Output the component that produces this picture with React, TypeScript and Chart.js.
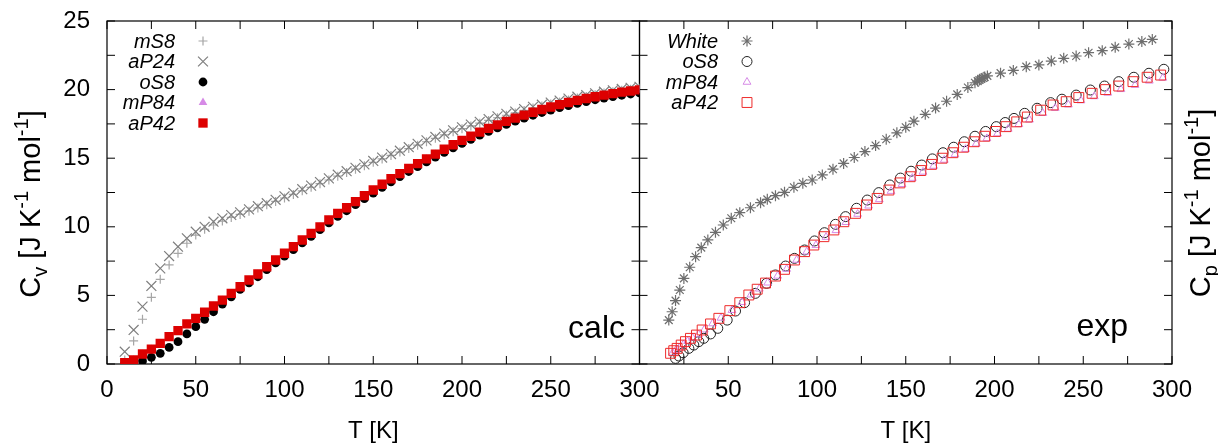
import React, { useEffect, useRef } from 'react';
import { Chart, registerables } from 'chart.js';
import { drawPoint } from 'chart.js/helpers';

Chart.register(...registerables);

const W = 1218;
const H = 445;
const FONT = '"Liberation Sans", Arial, Helvetica, sans-serif';

// ---------- calc panel ----------
const calcT = [10,15,20,25,30,35,40,45,50,55,60,65,70,75,80,85,90,95,100,105,110,115,120,125,130,135,140,145,150,155,160,165,170,175,180,185,190,195,200,205,210,215,220,225,230,235,240,245,250,255,260,265,270,275,280,285,290,295,300];
const calcMS8 = [0.30,1.68,3.26,4.86,6.17,7.22,8.07,8.80,9.40,9.82,
  10.13,10.42,10.68,10.90,11.14,11.37,11.60,11.85,12.10,12.36,
  12.62,12.88,13.14,13.41,13.69,13.95,14.20,14.45,14.70,14.95,
  15.20,15.45,15.70,15.95,16.20,16.45,16.70,16.93,17.15,17.35,
  17.55,17.75,17.95,18.13,18.30,18.48,18.65,18.80,18.95,19.10,
  19.25,19.38,19.50,19.63,19.75,19.85,19.95,20.03,20.10];
const calcAP24 = [0.90,2.48,4.18,5.69,6.97,7.87,8.55,9.16,9.64,10.00,
  10.37,10.62,10.86,11.05,11.27,11.50,11.72,11.97,12.22,12.48,
  12.74,13.00,13.26,13.53,13.80,14.05,14.30,14.55,14.80,15.05,
  15.30,15.55,15.80,16.05,16.30,16.55,16.80,17.03,17.25,17.45,
  17.65,17.85,18.05,18.23,18.40,18.58,18.75,18.90,19.05,19.20,
  19.35,19.48,19.60,19.73,19.85,19.95,20.05,20.13,20.20];
const calcOS8 = [0.04,0.10,0.22,0.49,0.78,1.21,1.63,2.19,2.72,3.26,
  3.81,4.37,4.90,5.44,5.92,6.36,6.88,7.37,7.86,8.34,
  8.83,9.31,9.79,10.28,10.76,11.17,11.61,12.05,12.46,12.88,
  13.28,13.66,14.03,14.38,14.73,15.08,15.43,15.76,16.08,16.38,
  16.68,16.95,17.21,17.46,17.70,17.92,18.13,18.33,18.51,18.68,
  18.84,18.99,19.13,19.26,19.38,19.49,19.59,19.68,19.76];
const calcMP84 = [0.08,0.27,0.70,1.06,1.47,1.96,2.40,2.89,3.30,3.74,
  4.20,4.63,5.12,5.60,6.09,6.53,7.06,7.55,8.04,8.52,
  9.01,9.49,9.97,10.47,10.95,11.36,11.80,12.24,12.65,13.07,
  13.47,13.85,14.22,14.57,14.92,15.27,15.62,15.95,16.27,16.57,
  16.87,17.14,17.40,17.65,17.89,18.11,18.32,18.52,18.70,18.87,
  19.03,19.18,19.32,19.45,19.57,19.68,19.78,19.87,19.95];
const calcAP42 = [0.10,0.30,0.73,1.09,1.50,1.99,2.43,2.92,3.33,3.77,
  4.23,4.66,5.15,5.63,6.12,6.56,7.09,7.58,8.07,8.55,
  9.04,9.52,10.00,10.50,10.98,11.39,11.83,12.27,12.68,13.10,
  13.50,13.88,14.25,14.60,14.95,15.30,15.65,15.98,16.30,16.60,
  16.90,17.17,17.43,17.68,17.92,18.14,18.35,18.55,18.73,18.90,
  19.06,19.21,19.35,19.48,19.60,19.71,19.81,19.90,19.98];

// ---------- exp panel ----------
const whiteT = [16.5,18.4,20.3,22.7,25.0,28.3,31.6,34.8,38.5,42.8,47.2,51.7,56.5,62.5,68.2,72.0,76.6,81.7,87.0,92.0,97.3,103,109,115,121,127,133,139,145,150,154.6,161,166.8,173,179,185,189,190.5,191.5,192.5,193.5,194.5,196,203.4,210.6,217.9,225,232,239,246,253,260.7,268,275.7,283,288.9];
const whiteCp = [3.2,3.81,4.62,5.39,6.24,7.05,7.82,8.48,9.04,9.6,
  10.13,10.62,11.03,11.39,11.76,12.0,12.27,12.51,12.88,13.17,
  13.41,13.78,14.2,14.62,15.05,15.48,15.92,16.38,16.85,17.25,
  17.7,18.2,18.65,19.15,19.65,20.15,20.5,20.62,20.7,20.78,
  20.85,20.92,21.0,21.2,21.4,21.67,21.8,22.08,22.28,22.45,
  22.69,22.84,23.08,23.32,23.5,23.66];
const expOS8T = [20.3,22.2,24.6,27.8,30.6,33.4,36.2,40.0,44.1,49.4,54.1,59.2,65.3,71.6,76.6,82.3,87.3,93.0,98.6,104.2,110.4,116.1,122.3,128.3,134.8,141.0,147.0,153,159,165,171,177,183,189,195,201,206,211,217,224,231.6,238,246,254,262,270,278.5,287,295.4];
const expOS8 = [0.41,0.58,0.82,1.14,1.38,1.63,1.87,2.19,2.6,3.2,
  3.86,4.47,5.15,5.88,6.49,7.14,7.7,8.31,8.97,9.57,
  10.18,10.74,11.35,11.95,12.49,13.05,13.55,14.05,14.5,14.95,
  15.4,15.8,16.2,16.6,16.95,17.3,17.6,17.9,18.27,18.64,
  19.05,19.3,19.6,19.97,20.26,20.58,20.9,21.19,21.48];
const expMP84T = [18.7,20.5,22.4,24.7,27.1,29.9,33.3,36.5,41.2,45.9,52.1,57.7,62.8,67.5,72.2,77.8,82.9,88.5,94.2,99.4,105.1,110.7,116.3,122.9,129.1,135.1,141.7,147.9,153.7,159.7,165.7,171.7,177.7,183.7,189.7,195.7,201.7,207.7,213.7,219.7,227.2,234.2,241.6,248.7,256.2,263.8,271.2,279.2,287.2,294.8];
const expMP84 = [0.82,1.0,1.18,1.42,1.66,1.9,2.15,2.5,2.95,3.36,
  3.92,4.5,5.05,5.48,5.92,6.42,6.92,7.58,8.18,8.66,
  9.25,9.74,10.33,10.93,11.53,12.0,12.6,13.1,13.55,14.0,
  14.43,14.87,15.27,15.66,16.05,16.44,16.79,17.13,17.47,17.8,
  18.28,18.65,18.9,19.2,19.5,19.76,20.02,20.33,20.64,20.85];
const expAP42T = [17.5,19.3,21.2,23.5,25.9,28.7,32.1,35.3,40.0,44.7,50.9,56.5,61.6,66.3,71.0,76.6,81.7,87.3,93.0,98.2,103.9,109.5,115.1,121.7,127.9,133.9,140.5,146.7,152.5,158.5,164.5,170.5,176.5,182.5,188.5,194.5,200.5,206.5,212.5,218.5,226,233,240.4,247.5,255,262.6,270,278,286,293.6];
const expAP42 = [0.78,0.97,1.14,1.38,1.63,1.87,2.11,2.48,2.92,3.33,
  3.89,4.47,5.03,5.45,5.9,6.41,6.9,7.58,8.19,8.67,
  9.28,9.77,10.37,10.98,11.59,12.07,12.68,13.2,13.65,14.1,
  14.55,15.0,15.4,15.8,16.2,16.6,16.95,17.3,17.65,18.0,
  18.5,18.88,19.12,19.42,19.73,20.0,20.26,20.58,20.9,21.06];

// ---------- axes ----------
const xTickMarks = [0,25,50,75,100,125,150,175,200,225,250,275,300];
const yTickMarks = [0,2.5,5,7.5,10,12.5,15,17.5,20,22.5,25];
const xLabelStep = 50;
const yLabelStep = 5;
const panelLabels = ['calc', 'exp'];
const xTitle = 'T [K]';
const yTitleLeft = [['C', 0], ['v', -1], [' [J K', 0], ['-1', 1], [' mol', 0], ['-1', 1], [']', 0]];
const yTitleRight = [['C', 0], ['p', -1], [' [J K', 0], ['-1', 1], [' mol', 0], ['-1', 1], [']', 0]];

const pts = (xs: number[], ys: number[]) => xs.map((x, i) => ({ x, y: ys[i] }));

function richWidth(ctx: CanvasRenderingContext2D, parts: any[], size: number) {
  let w = 0;
  for (const [t, s] of parts) {
    ctx.font = `${s === 0 ? size : Math.round(size * 0.68)}px ${FONT}`;
    w += ctx.measureText(t).width;
  }
  return w;
}
function drawRich(ctx: CanvasRenderingContext2D, parts: any[], size: number, x0: number, y0: number) {
  let x = x0;
  for (const [t, s] of parts) {
    ctx.font = `${s === 0 ? size : Math.round(size * 0.68)}px ${FONT}`;
    const dy = s === 0 ? 0 : s < 0 ? size * 0.25 : -size * 0.42;
    ctx.fillText(t, x, y0 + dy);
    x += ctx.measureText(t).width;
  }
}

const decor = {
  id: 'decor',
  beforeDatasetsDraw(chart: any) {
    const { ctx } = chart;
    const y = chart.scales.yL;
    const t = y.getPixelForValue(25);
    const b = y.getPixelForValue(0);
    ctx.save();
    ctx.strokeStyle = '#000';
    for (const id of ['xL', 'xR']) {
      const xs = chart.scales[id];
      const l = xs.getPixelForValue(0);
      const r = xs.getPixelForValue(300);
      ctx.lineWidth = 1.2;
      ctx.strokeRect(l, t, r - l, b - t);
      ctx.beginPath();
      ctx.lineWidth = 1;
      for (const v of xTickMarks) {
        const px = xs.getPixelForValue(v);
        ctx.moveTo(px, b); ctx.lineTo(px, b - 8);
        ctx.moveTo(px, t); ctx.lineTo(px, t + 8);
      }
      for (const v of yTickMarks) {
        const py = y.getPixelForValue(v);
        ctx.moveTo(l, py); ctx.lineTo(l + 8, py);
        ctx.moveTo(r, py); ctx.lineTo(r - 8, py);
      }
      ctx.stroke();
    }
    ctx.restore();
  },
  afterDraw(chart: any) {
    const { ctx } = chart;
    const xL = chart.scales.xL;
    const xR = chart.scales.xR;
    ctx.save();
    ctx.fillStyle = '#000';
    // legends
    const ds = chart.data.datasets;
    const legendDefs = [
      { idx: [0, 1, 2, 3, 4], textX: 175, symX: 203 },
      { idx: [5, 6, 7, 8], textX: 718, symX: 747 },
    ];
    for (const L of legendDefs) {
      L.idx.forEach((k, row) => {
        const d = ds[k];
        const yy = 41 + row * 20.5;
        ctx.font = `italic 20px ${FONT}`;
        ctx.fillStyle = '#000';
        ctx.textAlign = 'right';
        ctx.textBaseline = 'middle';
        ctx.fillText(d.label, L.textX, yy + 1);
        ctx.fillStyle = d.pointBackgroundColor;
        ctx.strokeStyle = d.pointBorderColor;
        ctx.lineWidth = d.pointBorderWidth;
        drawPoint(ctx, { pointStyle: d.pointStyle, radius: d.pointRadius, rotation: 0, borderWidth: d.pointBorderWidth } as any, L.symX, yy);
      });
    }
    // panel labels
    ctx.fillStyle = '#000';
    ctx.font = `32px ${FONT}`;
    ctx.textAlign = 'right';
    ctx.textBaseline = 'alphabetic';
    ctx.fillText(panelLabels[0], 625, 338);
    ctx.fillText(panelLabels[1], 1128, 336);
    // x titles
    ctx.font = `24px ${FONT}`;
    ctx.textAlign = 'center';
    const cL = (xL.getPixelForValue(0) + xL.getPixelForValue(300)) / 2;
    const cR = (xR.getPixelForValue(0) + xR.getPixelForValue(300)) / 2;
    ctx.fillText(xTitle, cL, 438);
    ctx.fillText(xTitle, cR, 438);
    // y titles
    ctx.textAlign = 'left';
    const size = 29;
    for (const [parts, cx, cy] of [[yTitleLeft, 40, 204], [yTitleRight, 1210, 203]] as any[]) {
      const w = richWidth(ctx, parts, size);
      ctx.save();
      ctx.translate(cx, cy);
      ctx.rotate(-Math.PI / 2);
      drawRich(ctx, parts, size, -w / 2, 0);
      ctx.restore();
    }
    ctx.restore();
  },
};

export default function App() {
  const ref = useRef<HTMLCanvasElement>(null);
  useEffect(() => {
    document.body.style.margin = '0';
    const tickFont = { family: FONT, size: 24 };
    const mk = (label: string, data: any[], xAxisID: string, yAxisID: string, style: any, order: number) => ({
      label, data, xAxisID, yAxisID, order, showLine: false, ...style,
    });
    const chart = new Chart(ref.current as HTMLCanvasElement, {
      type: 'scatter',
      data: {
        datasets: [
          mk('mS8', pts(calcT, calcMS8), 'xL', 'yL', { pointStyle: 'cross', pointRadius: 4.5, pointBorderWidth: 1.2, pointBorderColor: '#a6a6a6', pointBackgroundColor: 'rgba(0,0,0,0)' }, 8),
          mk('aP24', pts(calcT, calcAP24), 'xL', 'yL', { pointStyle: 'crossRot', pointRadius: 7, pointBorderWidth: 1.2, pointBorderColor: '#7f7f7f', pointBackgroundColor: 'rgba(0,0,0,0)' }, 7),
          mk('oS8', pts(calcT, calcOS8), 'xL', 'yL', { pointStyle: 'circle', pointRadius: 4.4, pointBorderWidth: 0, pointBorderColor: '#000', pointBackgroundColor: '#000' }, 6),
          mk('mP84', pts(calcT, calcMP84), 'xL', 'yL', { pointStyle: 'triangle', pointRadius: 5, pointBorderWidth: 0, pointBorderColor: '#d68ae6', pointBackgroundColor: '#d68ae6' }, 5),
          mk('aP42', pts(calcT, calcAP42), 'xL', 'yL', { pointStyle: 'rect', pointRadius: 6.6, pointBorderWidth: 0, pointBorderColor: '#dd0000', pointBackgroundColor: '#dd0000' }, 4),
          mk('White', pts(whiteT, whiteCp), 'xR', 'yR', { pointStyle: 'star', pointRadius: 5.5, pointBorderWidth: 1.2, pointBorderColor: '#6e6e6e', pointBackgroundColor: 'rgba(0,0,0,0)' }, 3),
          mk('oS8', pts(expOS8T, expOS8), 'xR', 'yR', { pointStyle: 'circle', pointRadius: 5, pointBorderWidth: 1, pointBorderColor: '#222', pointBackgroundColor: 'rgba(0,0,0,0)' }, 2),
          mk('mP84', pts(expMP84T, expMP84), 'xR', 'yR', { pointStyle: 'triangle', pointRadius: 4.5, pointBorderWidth: 1, pointBorderColor: '#d68ae6', pointBackgroundColor: 'rgba(0,0,0,0)' }, 1),
          mk('aP42', pts(expAP42T, expAP42), 'xR', 'yR', { pointStyle: 'rect', pointRadius: 7, pointBorderWidth: 1, pointBorderColor: '#ee2a2a', pointBackgroundColor: 'rgba(0,0,0,0)' }, 0),
        ] as any,
      },
      options: {
        responsive: false,
        animation: false,
        devicePixelRatio: 1,
        layout: { padding: { top: 21, left: 0, right: 0, bottom: 0 } },
        plugins: { legend: { display: false }, tooltip: { enabled: false } },
        scales: {
          xL: {
            type: 'linear', position: 'bottom', stack: 'x', stackWeight: 1, min: 0, max: 300,
            grid: { display: false, drawTicks: false }, border: { display: false },
            ticks: { stepSize: xLabelStep, font: tickFont, color: '#000', padding: 12, maxRotation: 0, autoSkip: false },
            afterFit: (s: any) => { s.height = 81; },
          },
          xR: {
            type: 'linear', position: 'bottom', stack: 'x', stackWeight: 1, min: 0, max: 300,
            grid: { display: false, drawTicks: false }, border: { display: false },
            ticks: { stepSize: xLabelStep, font: tickFont, color: '#000', padding: 12, maxRotation: 0, autoSkip: false,
              callback: (v: any) => (v === 0 ? '' : String(v)) },
            afterFit: (s: any) => { s.height = 81; },
          },
          yL: {
            type: 'linear', position: 'left', min: 0, max: 25,
            grid: { display: false, drawTicks: true, tickLength: 17 }, border: { display: false },
            ticks: { stepSize: yLabelStep, font: tickFont, color: '#000', padding: 0 },
            afterFit: (s: any) => { s.width = 107; },
          },
          yR: {
            type: 'linear', position: 'right', min: 0, max: 25,
            grid: { display: false, drawTicks: false }, border: { display: false },
            ticks: { display: false },
            afterFit: (s: any) => { s.width = 46; },
          },
        },
      } as any,
      plugins: [decor],
    });
    return () => chart.destroy();
  }, []);
  return (
    <div style={{ width: W, height: H, position: 'relative', background: '#fff' }}>
      <canvas ref={ref} width={W} height={H} style={{ display: 'block' }} />
    </div>
  );
}
